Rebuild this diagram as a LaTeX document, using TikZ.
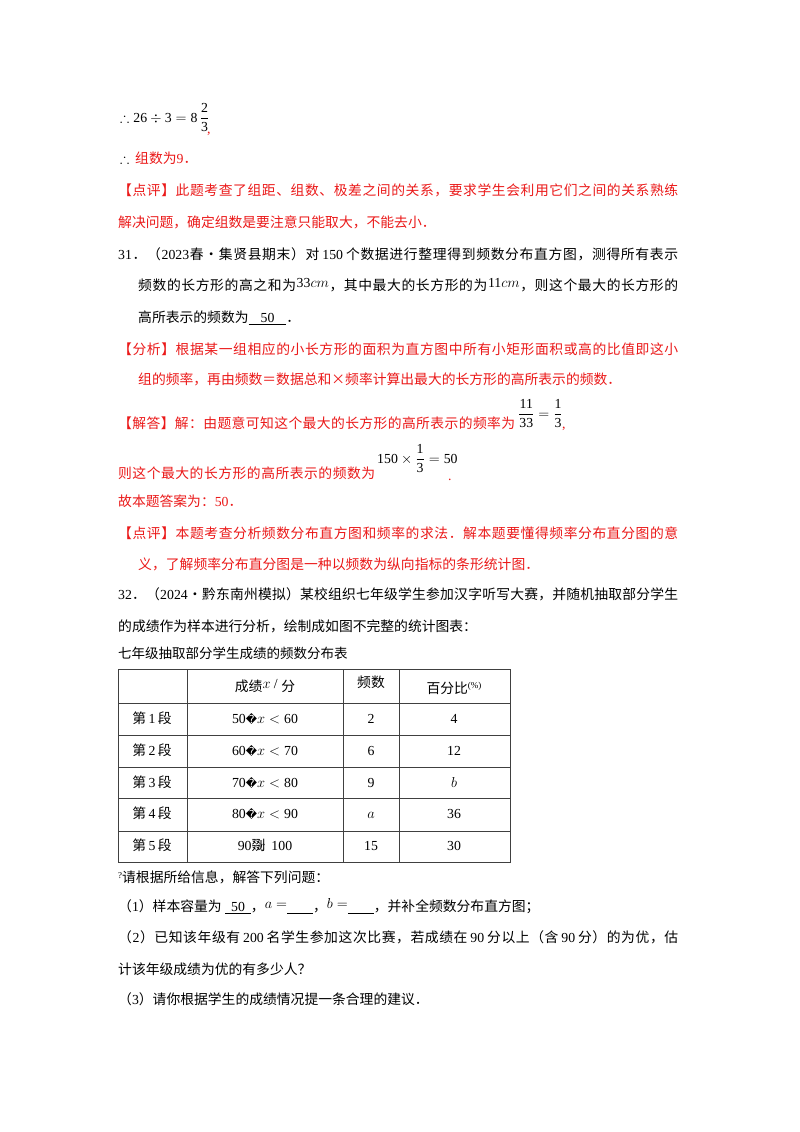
\documentclass[tikz,border=0pt]{standalone}
\usepackage{amsmath,amssymb}
\usepackage{fontspec}
\setmainfont{Liberation Serif}
\newfontfamily\zh{Noto Sans CJK SC}
\newfontfamily\djv{DejaVu Sans}
\definecolor{myred}{RGB}{235,25,25}
\ExplSyntaxOn
\cs_new_protected:Npn \spreadto #1 #2
  { \makebox[#1][s]{ \tl_map_inline:nn {#2} { {##1} \hskip 0pt plus 1fil } \hskip 0pt plus -1fil } }
\ExplSyntaxOff
\newcommand{\tx}[1]{\text{\rmfamily #1}}
\newcommand{\rn}[1]{{\rmfamily #1}}
\begin{document}
\begin{tikzpicture}[x=1pt,y=-1pt,
  t/.style={anchor=base west,inner sep=0,font=\fontsize{13.8}{16}\selectfont},
  r/.style={t,text=myred},
  c/.style={anchor=base,inner sep=0,font=\fontsize{13.8}{16}\selectfont},
  ln/.style={line width=0.6pt,draw=black!75}]
\useasboundingbox (0,0) rectangle (800,1132);
\fill[white] (0,0) rectangle (800,1132);
\node[t] (l1) at (120,122) {$\therefore \tx{26}\div \tx{3}=\tx{8}\,\dfrac{\tx{2}}{\tx{3}}$};
\node[r] (l1c) at (207,133) {,};
\node[t] (l2a) at (120,163) {$\therefore$};
\node[r] (l2) at (135,163) {{\zh 组数为}9{\zh ．}};
\node[r] (l3) at (118,195) {\zh\spreadto{560pt}{【点评】此题考查了组距、组数、极差之间的关系，要求学生会利用它们之间的关系熟练}};
\node[r] (l4) at (118,227) {\zh 解决问题，确定组数是要注意只能取大，不能去小．};
\node[t] (l5) at (118,259) {\zh\spreadto{560pt}{{\rn{31}}．（{\rn{2023}}春•集贤县期末）对{\rn{\,150\,}}个数据进行整理得到频数分布直方图，测得所有表示}};
\node[t] (l6) at (138,290) {\zh\spreadto{540pt}{频数的长方形的高之和为{\raisebox{3pt}{$\tx{33}cm$}}，其中最大的长方形的为{\raisebox{3pt}{$\tx{11}cm$}}，则这个最大的长方形的}};
\node[t] (l7) at (138,322) {{\zh 高所表示的频数为}\underline{\hspace{12pt}50\hspace{12pt}}{\zh ．}};
\node[r] (l8) at (118,354) {\zh\spreadto{560pt}{【分析】根据某一组相应的小长方形的面积为直方图中所有小矩形面积或高的比值即这小}};
\node[r] (l9) at (138,384) {\zh 组的频率，再由频数＝数据总和×频率计算出最大的长方形的高所表示的频数．};
\node[r] (l10) at (118,428) {\zh\spreadto{397pt}{【解答】解：由题意可知这个最大的长方形的高所表示的频率为}};
\node[t] (f1) at (518,418) {$\dfrac{\tx{11}}{\tx{33}}=\dfrac{\tx{1}}{\tx{3}}$};
\node[r] (l10c) at (562,428) {,};
\node[r] (l11) at (118,478) {\zh\spreadto{257pt}{则这个最大的长方形的高所表示的频数为}};
\node[t] (f2) at (377,463) {$\tx{150}\times\dfrac{\tx{1}}{\tx{3}}=\tx{50}$};
\node[r] (l11c) at (448,480) {.};
\node[r] (l12) at (118,506) {{\zh 故本题答案为：}50{\zh ．}};
\node[r] (l13) at (118,538) {\zh\spreadto{560pt}{【点评】本题考查分析频数分布直方图和频率的求法．解本题要懂得频率分布直分图的意}};
\node[r] (l14) at (138,569) {\zh\spreadto{401pt}{义，了解频率分布直分图是一种以频数为纵向指标的条形统计图．}};
\node[t] (l15) at (118,599) {\zh\spreadto{560pt}{{\rn{32}}．（{\rn{2024}}•黔东南州模拟）某校组织七年级学生参加汉字听写大赛，并随机抽取部分学生}};
\node[t] (l16) at (118,631) {\zh 的成绩作为样本进行分析，绘制成如图不完整的统计图表：};
\node[t,font=\fontsize{13.5}{16}\selectfont] (l17) at (118,658) {\zh 七年级抽取部分学生成绩的频数分布表};
% table
\draw[ln] (118,669) rectangle (510,862);
\foreach \y in {703,735,767,798,831} \draw[ln] (118,\y) -- (510,\y);
\foreach \x in {187,343,399} \draw[ln] (\x,669) -- (\x,862);
\node[c] (h2) at (265,691) {{\zh 成绩}\raisebox{3pt}{$x$ /} {\zh 分}};
\node[c] (h3) at (371,687) {\zh 频数};
\node[c] (h4) at (454,693) {{\zh 百分比}\raisebox{5pt}{\small(\%)}};
\foreach \n/\y/\r/\s/\f/\p in {1/723/50/60/2/4,2/755/60/70/6/12,3/787/70/80/9/$b$,4/818/80/90/{$a$}/36}{
  \node[c] at (152,\y) {{\zh 第}\,\n\,{\zh 段}};
  \node[c] at (265,\y) {\r{\djv\fontsize{11}{12}\selectfont �}$x<\tx{\s}$};
  \node[c] at (371,\y) {\f};
  \node[c] at (454,\y) {\p};
}
\node[c] (r5) at (152,850) {{\zh 第}\,5\,{\zh 段}};
\node[c] (r5b) at (265,850) {90{\zh 剟}\hspace{-8pt}$x$\hspace{6pt}100};
\node[c] (r5c) at (371,850) {15};
\node[c] (r5d) at (454,850) {30};
\node[t] (q0) at (118,882) {\raisebox{4pt}{\small ?}{\zh 请根据所给信息，解答下列问题：}};
\node[t] (q1) at (118,911) {{\zh （}1{\zh ）样本容量为} \underline{\hspace{6pt}50\hspace{6pt}}{\zh ，}\raisebox{3pt}{$a=$}\underline{\hspace{26pt}}{\zh ，}\raisebox{3pt}{$b=$}\underline{\hspace{26pt}}{\zh ，并补全频数分布直方图；}};
\node[t] (q2) at (118,942) {\zh\spreadto{560pt}{（{\rn{2}}）已知该年级有{\rn{\,200\,}}名学生参加这次比赛，若成绩在{\rn{\,90\,}}分以上（含{\rn{\,90\,}}分）的为优，估}};
\node[t] (q3) at (118,974) {\zh 计该年级成绩为优的有多少人？};
\node[t] (q4) at (118,1004) {{\zh （}3{\zh ）请你根据学生的成绩情况提一条合理的建议．}};
\end{tikzpicture}
\end{document}
